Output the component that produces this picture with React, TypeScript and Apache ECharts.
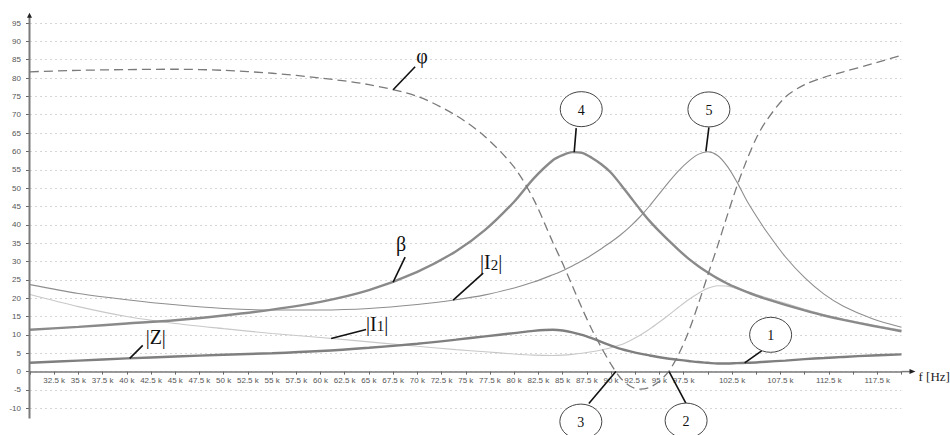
import React, { useEffect, useRef } from 'react';
import * as echarts from 'echarts';

// frequency in kHz
const freqK = [30, 35, 40, 45, 50, 55, 60, 65, 70, 74, 77, 80, 82, 84, 85, 86, 87, 88, 89, 90, 91, 92, 93, 94, 95, 96, 97, 98, 99, 100, 101, 102, 103, 104, 105, 106, 108, 110, 112, 114, 117, 120];

const phiDeg = [81.7, 82.1, 82.3, 82.4, 82.1, 81.3, 80.0, 78.2, 75.0, 69.8, 64.0, 55.7, 47.0, 35.2, 29.5, 23.4, 17.3, 11.6, 6.6, 2.0, -1.8, -4.0, -4.8, -4.3, -2.6, 0.2, 4.8, 10.8, 18.3, 26.3, 34.2, 42.5, 50.5, 57.5, 63.6, 68.2, 74.8, 78.2, 80.2, 81.7, 83.9, 86.2];

const beta = [11.4, 12.2, 13.1, 14.0, 15.3, 16.9, 19.0, 22.2, 27.2, 32.8, 38.6, 46.3, 52.6, 57.6, 59.0, 59.8, 59.6, 58.3, 56.5, 54.2, 51.0, 47.6, 44.2, 41.0, 38.2, 35.6, 33.1, 30.8, 28.8, 27.0, 25.4, 24.0, 22.8, 21.7, 20.7, 19.8, 18.2, 16.7, 15.3, 14.1, 12.5, 11.0];

const i2Mag = [23.7, 21.3, 19.6, 18.2, 17.2, 16.8, 16.8, 17.2, 18.3, 19.6, 20.9, 22.8, 24.4, 26.4, 27.5, 28.8, 30.2, 31.8, 33.5, 35.3, 37.3, 39.6, 42.2, 45.2, 48.5, 51.8, 54.8, 57.3, 59.2, 59.9, 58.9, 56.0, 51.7, 46.7, 42.4, 38.4, 31.3, 25.6, 21.1, 17.8, 14.4, 12.1];

const zMag = [2.4, 3.0, 3.6, 4.1, 4.6, 5.0, 5.6, 6.5, 7.6, 8.7, 9.6, 10.5, 11.1, 11.4, 11.2, 10.7, 10.0, 9.1, 8.1, 7.1, 6.2, 5.5, 4.9, 4.4, 3.9, 3.5, 3.2, 2.9, 2.6, 2.4, 2.2, 2.2, 2.3, 2.4, 2.5, 2.7, 3.0, 3.4, 3.7, 4.0, 4.4, 4.7];

const i1Mag = [21.0, 17.7, 15.0, 13.1, 11.7, 10.4, 9.3, 8.1, 6.9, 6.0, 5.4, 4.8, 4.5, 4.4, 4.5, 4.7, 5.0, 5.4, 5.9, 6.5, 7.3, 8.5, 9.9, 11.6, 13.5, 15.5, 17.6, 19.6, 21.3, 22.7, 23.4, 23.3, 22.6, 21.8, 21.0, 20.2, 18.6, 17.0, 15.5, 14.3, 12.7, 11.3];

const xLabelValues = [32.5, 35, 37.5, 40, 42.5, 45, 47.5, 50, 52.5, 55, 57.5, 60, 62.5, 65, 67.5, 70, 72.5, 75, 77.5, 80, 82.5, 85, 87.5, 90, 92.5, 95, 97.5, 102.5, 107.5, 112.5, 117.5];

// curve name labels: anchor on curve (data), pointer tip and label centre offsets (px)
const curveLabels = [
  { main: 'φ', sub: '', bars: false, at: [67.5, 76.8], tip: [22, -23], pos: [29, -34] },
  { main: 'β', sub: '', bars: false, at: [67.5, 24.4], tip: [12, -25], pos: [8, -38] },
  { main: 'I', sub: '2', bars: true, at: [73.7, 19.5], tip: [30, -27], pos: [38, -38] },
  { main: 'I', sub: '1', bars: true, at: [61.1, 9.0], tip: [35, -9], pos: [46, -15] },
  { main: 'Z', sub: '', bars: true, at: [40.3, 3.6], tip: [13, -13], pos: [26, -21] },
];

// numbered markers
const markers = [
  { num: '4', at: [86.2, 59.8], tip: [2, -24], pos: [7, -43] },
  { num: '5', at: [99.8, 60.0], tip: [3, -24], pos: [3, -42] },
  { num: '1', at: [103.8, 2.4], tip: [17, -12], pos: [26, -28] },
  { num: '3', at: [90.5, 0], tip: [-27, 32], pos: [-35, 50] },
  { num: '2', at: [96.0, 0], tip: [17, 32], pos: [17, 49] },
];

const serif = '"Liberation Serif", "DejaVu Serif", serif';
const sans = '"Liberation Sans", Arial, sans-serif';

export default function App() {
  const ref = useRef<HTMLDivElement>(null);

  useEffect(() => {
    const chart = echarts.init(ref.current as HTMLDivElement, null, { renderer: 'svg' });
    const mk = (arr: number[]) => freqK.map((f, i) => [f, arr[i]]);
    const line = (data: number[], color: string, width: number, type: any = 'solid') => ({
      type: 'line',
      data: mk(data),
      showSymbol: false,
      smooth: 0.3,
      silent: true,
      lineStyle: { color, width, type },
    });

    chart.setOption({
      animation: false,
      backgroundColor: '#ffffff',
      grid: { left: 30, right: 48.5, top: 23, bottom: 26.7 },
      xAxis: {
        type: 'value',
        min: 30,
        max: 120,
        interval: 2.5,
        offset: 0,
        axisLine: { show: true, onZero: false, lineStyle: { color: '#7a7a7a', width: 1.5 } },
        axisTick: { show: true, length: 3, lineStyle: { color: '#666', width: 1 } },
        axisLabel: {
          margin: 5,
          fontSize: 8,
          fontFamily: sans,
          color: '#555',
          formatter: (v: number) => (xLabelValues.some((t) => Math.abs(t - v) < 1e-6) ? `${v} k` : ''),
        },
        splitLine: { show: false },
      },
      yAxis: {
        type: 'value',
        min: -10,
        max: 95,
        interval: 5,
        axisLine: { show: false },
        axisTick: { show: true, length: 4, lineStyle: { color: '#666', width: 1 } },
        axisLabel: { margin: 9, fontSize: 8, fontFamily: sans, color: '#555' },
        splitLine: { show: true, lineStyle: { color: '#d6d6d6', width: 1, type: [2, 3] } },
      },
      series: [
        line(i1Mag, '#c8c8c8', 1.1),
        line(i2Mag, '#8e8e8e', 1.1),
        line(zMag, '#7f7f7f', 2.4),
        line(beta, '#8a8a8a', 2.4),
        line(phiDeg, '#7a7a7a', 1.3, [9, 5]),
      ],
    });

    const P = (x: number, y: number) => chart.convertToPixel({ gridIndex: 0 }, [x, y]) as number[];

    // put the x axis (line, ticks, labels) on the zero line
    const zeroY = P(30, 0)[1];
    const bottomY = P(30, -10)[1];
    chart.setOption({ xAxis: { offset: -(bottomY - zeroY) } });

    const g: any[] = [];

    // axes extensions and arrows
    const [ax0, ay0] = P(30, 0);
    const ax1 = P(120, 0)[0];
    const yBot = P(30, -12.8)[1];
    const yTop = P(30, 97.8)[1];
    const yx = ax0 - 0.5;
    g.push({ type: 'line', z: 50, silent: true, shape: { x1: yx, y1: yBot, x2: yx, y2: yTop + 4 }, style: { stroke: '#7a7a7a', lineWidth: 2 } });
    g.push({ type: 'polygon', z: 51, silent: true, shape: { points: [[yx - 2.5, yTop + 5], [yx + 2.5, yTop + 5], [yx, yTop]] }, style: { fill: '#222' } });
    g.push({ type: 'line', z: 50, silent: true, shape: { x1: ax1, y1: ay0, x2: ax1 + 9, y2: ay0 }, style: { stroke: '#7a7a7a', lineWidth: 1.5 } });
    g.push({ type: 'polygon', z: 51, silent: true, shape: { points: [[ax1 + 8, ay0 - 2.5], [ax1 + 8, ay0 + 2.5], [ax1 + 14, ay0]] }, style: { fill: '#222' } });
    g.push({ type: 'text', z: 51, silent: true, x: ax1 + 17, y: ay0 + 5, style: { text: 'f [Hz]', fontFamily: serif, fontSize: 13, fill: '#222', align: 'left', verticalAlign: 'middle' } });

    // curve labels
    curveLabels.forEach((c) => {
      const [x, y] = P(c.at[0], c.at[1]);
      g.push({ type: 'line', z: 60, silent: true, shape: { x1: x, y1: y, x2: x + c.tip[0], y2: y + c.tip[1] }, style: { stroke: '#111', lineWidth: 1.6 } });
      let text: string;
      if (c.sub) text = `{n||${c.main}}{s|${c.sub}}{n||}`;
      else if (c.bars) text = `{n||${c.main}|}`;
      else text = `{g|${c.main}}`;
      g.push({
        type: 'text', z: 60, silent: true, x: x + c.pos[0], y: y + c.pos[1],
        style: {
          text, align: 'center', verticalAlign: 'middle', fill: '#111',
          rich: {
            n: { fontFamily: serif, fontSize: 20, fill: '#111', verticalAlign: 'bottom', lineHeight: 20 },
            s: { fontFamily: serif, fontSize: 15, fill: '#111', verticalAlign: 'bottom', lineHeight: 14 },
            g: { fontFamily: serif, fontSize: 20, fill: '#111' },
          },
        },
      });
    });

    // numbered markers
    markers.forEach((m) => {
      const [x, y] = P(m.at[0], m.at[1]);
      g.push({ type: 'line', z: 60, silent: true, shape: { x1: x, y1: y, x2: x + m.tip[0], y2: y + m.tip[1] }, style: { stroke: '#111', lineWidth: 1.6 } });
      g.push({ type: 'ellipse', z: 61, silent: true, shape: { cx: x + m.pos[0], cy: y + m.pos[1], rx: 21, ry: 17.5 }, style: { fill: '#fff', stroke: '#444', lineWidth: 1 } });
      g.push({ type: 'text', z: 62, silent: true, x: x + m.pos[0], y: y + m.pos[1] + 1, style: { text: m.num, fontFamily: serif, fontSize: 14, fill: '#111', align: 'center', verticalAlign: 'middle' } });
    });

    chart.setOption({ graphic: g });

    return () => chart.dispose();
  }, []);

  return <div ref={ref} style={{ position: 'fixed', left: 0, top: 0, width: 950, height: 435, background: '#fff' }} />;
}
